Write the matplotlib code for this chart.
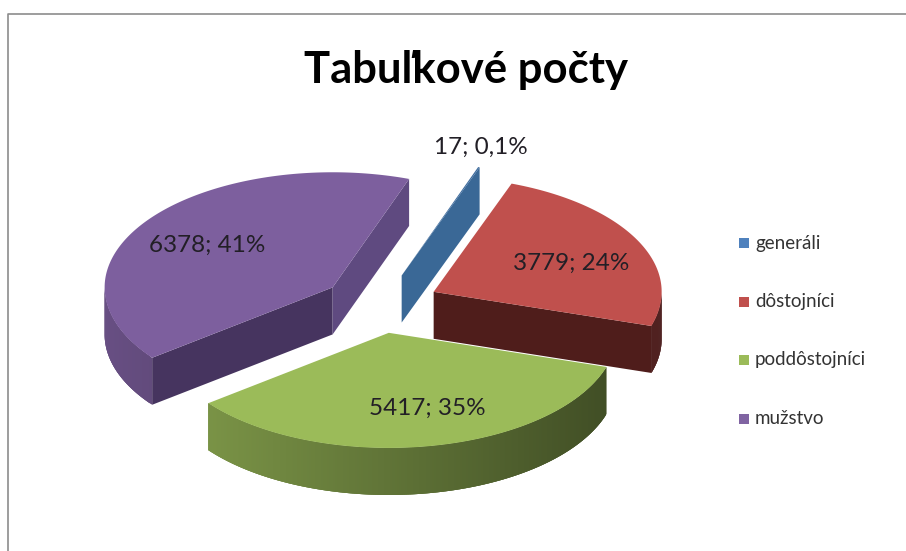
import numpy as np
import matplotlib
matplotlib.use('Agg')
import matplotlib.pyplot as plt
from matplotlib.colors import to_rgb

# Chart data
categories = ['generáli', 'dôstojníci', 'poddôstojníci', 'mužstvo']
values = [17, 3779, 5417, 6378]
percent_labels = ['0,1%', '24%', '35%', '41%']

# Colours of the top faces, legend squares and cut faces
top_colors = ['#3F6C9E', '#C0504D', '#9BBB59', '#7D5F9E']
legend_colors = ['#4F81BD', '#C0504D', '#9BBB59', '#8064A2']
start_face_colors = ['#3A6896', '#4F1D1B', '#4F6130', '#46345F']
end_face_colors = ['#3A6896', '#4F1D1B', '#4F6130', '#5F4A80']

# Geometry of the projected pie, in pixels
center_x, center_y = 380, 304.5
radius = 228
squash = 0.505
depth = 47
explode = 61
first_angle = 19.6
nudges = [(1, 0), (-1, 1), (-2, -2), (2, 1)]

label_pos = [(481, 147), (571, 263), (427, 408), (207, 245)]
legend_y = [243, 302, 360, 419]


def project(angle, r, x0, y0):
    a = np.radians(angle)
    return x0 + r * np.sin(a), y0 - r * squash * np.cos(a)


def shade(color, angle):
    # rim is lighter on the left, dark on the right
    f = 0.62 - 0.21 * np.sin(np.radians(angle))
    return tuple(c * f for c in to_rgb(color))


def draw_slice(ax, start, end, idx, base_z):
    color = top_colors[idx]
    mid = (start + end) / 2
    x0, y0 = project(mid, explode, center_x, center_y)
    x0 += nudges[idx][0]
    y0 += nudges[idx][1]
    angles = np.linspace(start, end, 240)
    xs, ys = project(angles, radius, x0, y0)

    # cut faces, only those that look at the viewer
    if np.sin(np.radians(start)) < 0:
        px, py = project(start, radius, x0, y0)
        ax.fill([x0, px, px, x0], [y0, py, py + depth, y0 + depth],
                color=start_face_colors[idx], lw=0, zorder=base_z)
    if np.sin(np.radians(end)) > 0:
        px, py = project(end, radius, x0, y0)
        ax.fill([x0, px, px, x0], [y0, py, py + depth, y0 + depth],
                color=end_face_colors[idx], lw=0, zorder=base_z)

    # outer rim, only the front half shows. Each piece runs on under the
    # next one so no seams appear
    front = angles[(angles % 360 >= 90) & (angles % 360 <= 270)]
    for j in range(len(front) - 1):
        a1 = front[j]
        a2 = front[min(j + 3, len(front) - 1)]
        arc = np.linspace(a1, a2, 5)
        x_arc, y_arc = project(arc, radius, x0, y0)
        ax.fill(np.r_[x_arc, x_arc[::-1]], np.r_[y_arc, y_arc[::-1] + depth],
                color=shade(color, a1), lw=0, zorder=base_z + 1)

    ax.fill(np.r_[x0, xs], np.r_[y0, ys], color=color, lw=0, zorder=base_z + 2)


fig = plt.figure(figsize=(9.06, 5.51), dpi=100)
ax = fig.add_axes([0, 0, 1, 1])
ax.set_xlim(0, 906)
ax.set_ylim(551, 0)
ax.axis('off')

# chart frame
ax.plot([906, 7.5, 7.5], [13.5, 13.5, 551], color='#8c8c8c', lw=1.2)

plt.rcParams['font.family'] = ['Lato', 'DejaVu Sans']

ax.text(466, 70, 'Tabuľkové počty', ha='center', va='center',
        fontsize=31.4, fontweight='bold', color='black')

total = sum(values)
angle = first_angle
spans = []
for v in values:
    spans.append((angle, angle + v / total * 360))
    angle += v / total * 360

# back slices first, green sits over the red one
for z, i in enumerate([3, 0, 1, 2]):
    draw_slice(ax, spans[i][0], spans[i][1], i, 10 + z * 10)

for i, pos in enumerate(label_pos):
    ax.text(pos[0], pos[1], f'{values[i]}; {percent_labels[i]}', ha='center', va='center',
            fontsize=17.5, color='#221f26', zorder=100)

for i, name in enumerate(categories):
    ax.scatter([743.5], [legend_y[i]], marker='s', s=62, color=legend_colors[i], lw=0, zorder=100)
    ax.text(755, legend_y[i], name, ha='left', va='center', fontsize=13.5,
            color='#333333', zorder=100)

fig.savefig('out.png', dpi=100)
